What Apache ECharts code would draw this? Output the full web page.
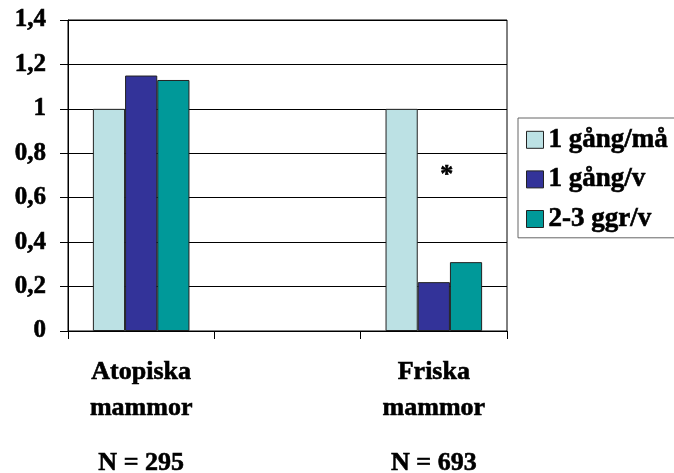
<!DOCTYPE html>
<html>
<head>
<meta charset="utf-8">
<script src="https://cdn.jsdelivr.net/npm/echarts@6/dist/echarts.min.js"></script>
<style>
  html, body { margin: 0; padding: 0; background: #fff; }
  #chart { width: 674px; height: 473px; }
</style>
</head>
<body>
<div id="chart"></div>
<script>
// Groups along the x axis (the middle slot is left empty as a spacer)
const groups = ['Atopiska mammor', '', 'Friska mammor'];
const groupN = ['N = 295', '', 'N = 693'];

// Series names and values per group
const seriesNames = ['1 gång/må', '1 gång/v', '2-3 ggr/v'];
const perMonth   = [1.00, null, 1.00];
const perWeek    = [1.15, null, 0.22];
const twoThreeWk = [1.13, null, 0.31];

// Significance marker above the healthy mothers group
const starGroup = 2;
const starValue = 0.70;

// Y axis ticks
const yMin = 0, yMax = 1.4, yStep = 0.2;

const colors = ['#BCE1E4', '#333399', '#009999'];
const FONT = '"Liberation Serif", "Times New Roman", serif';

// Slight outline in the text colour to give the heavy bold look
const heavy = { textBorderColor: '#000', textBorderWidth: 0.6 };

const chart = echarts.init(document.getElementById('chart'), null, { renderer: 'canvas' });

const seriesData = [perMonth, perWeek, twoThreeWk];

const series = seriesData.map((d, i) => ({
  name: seriesNames[i],
  type: 'bar',
  data: d,
  barGap: '0%',
  barCategoryGap: '34%',
  itemStyle: { color: colors[i], borderColor: '#222', borderWidth: 1 },
  emphasis: { disabled: true },
  animation: false
}));

series[1].markPoint = {
  symbol: 'circle',
  symbolSize: 0,
  silent: true,
  data: [{ coord: [starGroup, starValue] }],
  label: Object.assign({
    show: true,
    formatter: '*',
    position: 'inside',
    offset: [13, 0],
    color: '#000',
    fontFamily: FONT,
    fontWeight: 'bold',
    fontSize: 26
  }, heavy)
};

chart.setOption({
  backgroundColor: '#fff',
  animation: false,
  grid: {
    left: 68, right: 167, top: 20, bottom: 142,
    outerBoundsMode: 'none',
    containLabel: false,
    show: true, borderColor: '#000', borderWidth: 1,
    backgroundColor: 'transparent'
  },
  legend: {
    orient: 'vertical',
    left: 518, top: 118,
    padding: [8, 30, 5, 8],
    itemWidth: 17, itemHeight: 17,
    itemGap: 12,
    icon: 'rect',
    borderColor: '#666', borderWidth: 1,
    backgroundColor: '#fff',
    selectedMode: false,
    itemStyle: { borderColor: '#222', borderWidth: 1 },
    textStyle: Object.assign({
      color: '#000', fontFamily: FONT, fontWeight: 'bold', fontSize: 27,
      padding: [0, 0, 0, 0]
    }, heavy),
    data: seriesNames
  },
  xAxis: {
    type: 'category',
    data: groups,
    boundaryGap: true,
    axisLine: { lineStyle: { color: '#000', width: 1 } },
    axisTick: { show: true, length: 8, interval: 0, lineStyle: { color: '#000' } },
    axisLabel: {
      interval: 0,
      margin: 23,
      color: '#000',
      formatter: (v, idx) => {
        if (!v) return '';
        const parts = v.split(' ');
        return '{a|' + parts[0] + '}\n{a|' + parts[1] + '}\n{n|' + groupN[idx] + '}';
      },
      rich: {
        a: Object.assign({ fontFamily: FONT, fontWeight: 'bold', fontSize: 26, lineHeight: 36, color: '#000' }, heavy),
        n: Object.assign({ fontFamily: FONT, fontWeight: 'bold', fontSize: 26, lineHeight: 75, color: '#000' }, heavy)
      }
    },
    splitLine: { show: false }
  },
  yAxis: {
    type: 'value',
    min: yMin, max: yMax, interval: yStep,
    axisLine: { show: true, lineStyle: { color: '#000', width: 1 } },
    axisTick: { show: true, length: 8, lineStyle: { color: '#000' } },
    axisLabel: Object.assign({
      margin: 22,
      color: '#000',
      fontFamily: FONT, fontWeight: 'bold', fontSize: 25,
      formatter: (v) => String(Math.round(v * 10) / 10).replace('.', ',')
    }, heavy),
    splitLine: { show: true, lineStyle: { color: '#000', width: 1 } }
  },
  series: series
});
</script>
</body>
</html>
